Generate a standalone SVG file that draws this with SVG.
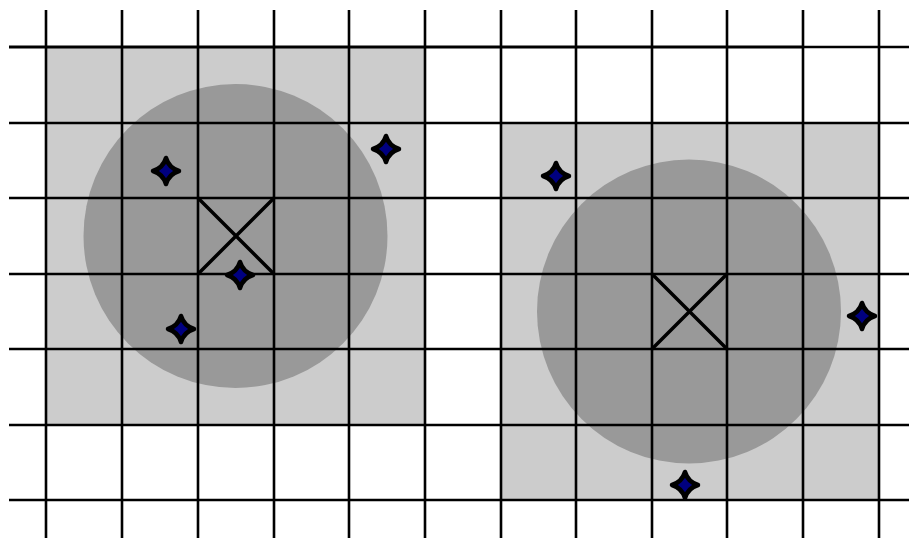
<svg xmlns="http://www.w3.org/2000/svg" width="909" height="538" viewBox="0 0 909 538">
<defs>
<style>
.sq{fill:#cccccc}
.ci{fill:#999999}
.g line{stroke:#000;stroke-width:2.6}
.x{stroke:#000;stroke-width:3.5;fill:none}
.st{fill:#000080;stroke:#000;stroke-width:4.5;stroke-linejoin:round}
</style>
<path id="star" d="M0,-13 Q3,-3 13,0 Q3,3 0,13 Q-3,3 -13,0 Q-3,-3 0,-13Z"/>
</defs>
<rect width="909" height="538" fill="#fff"/>
<g id="region-left">
<rect class="sq" x="46" y="47" width="379" height="378"/>
<circle class="ci" cx="235.5" cy="236" r="152"/>
</g>
<g id="region-right">
<rect class="sq" x="501" y="123" width="378" height="377"/>
<circle class="ci" cx="689" cy="311.5" r="152"/>
</g>
<g id="grid" class="g">
<line x1="46" y1="10" x2="46" y2="538"/>
<line x1="122" y1="10" x2="122" y2="538"/>
<line x1="198" y1="10" x2="198" y2="538"/>
<line x1="274" y1="10" x2="274" y2="538"/>
<line x1="349" y1="10" x2="349" y2="538"/>
<line x1="425" y1="10" x2="425" y2="538"/>
<line x1="501" y1="10" x2="501" y2="538"/>
<line x1="576" y1="10" x2="576" y2="538"/>
<line x1="652" y1="10" x2="652" y2="538"/>
<line x1="727" y1="10" x2="727" y2="538"/>
<line x1="803" y1="10" x2="803" y2="538"/>
<line x1="879" y1="10" x2="879" y2="538"/>
<line x1="9" y1="47" x2="803" y2="47" style="stroke-width:3.2"/>
<line x1="803" y1="47" x2="909" y2="47"/>
<line x1="9" y1="123" x2="909" y2="123"/>
<line x1="9" y1="198" x2="909" y2="198"/>
<line x1="9" y1="274" x2="909" y2="274"/>
<line x1="9" y1="349" x2="909" y2="349"/>
<line x1="9" y1="425" x2="909" y2="425"/>
<line x1="9" y1="500" x2="909" y2="500"/>
</g>
<g id="center-left">
<path class="x" d="M198,198 L274,274 M274,198 L198,274"/>
</g>
<g id="center-right">
<path class="x" d="M652,274 L727,349 M727,274 L652,349"/>
</g>
<g id="point-1"><use href="#star" class="st" x="166" y="171"/></g>
<g id="point-2"><use href="#star" class="st" x="386" y="149"/></g>
<g id="point-3"><use href="#star" class="st" x="240" y="275"/></g>
<g id="point-4"><use href="#star" class="st" x="181" y="329"/></g>
<g id="point-5"><use href="#star" class="st" x="556" y="176"/></g>
<g id="point-6"><use href="#star" class="st" x="862" y="316"/></g>
<g id="point-7"><use href="#star" class="st" x="685" y="485"/></g>
</svg>
